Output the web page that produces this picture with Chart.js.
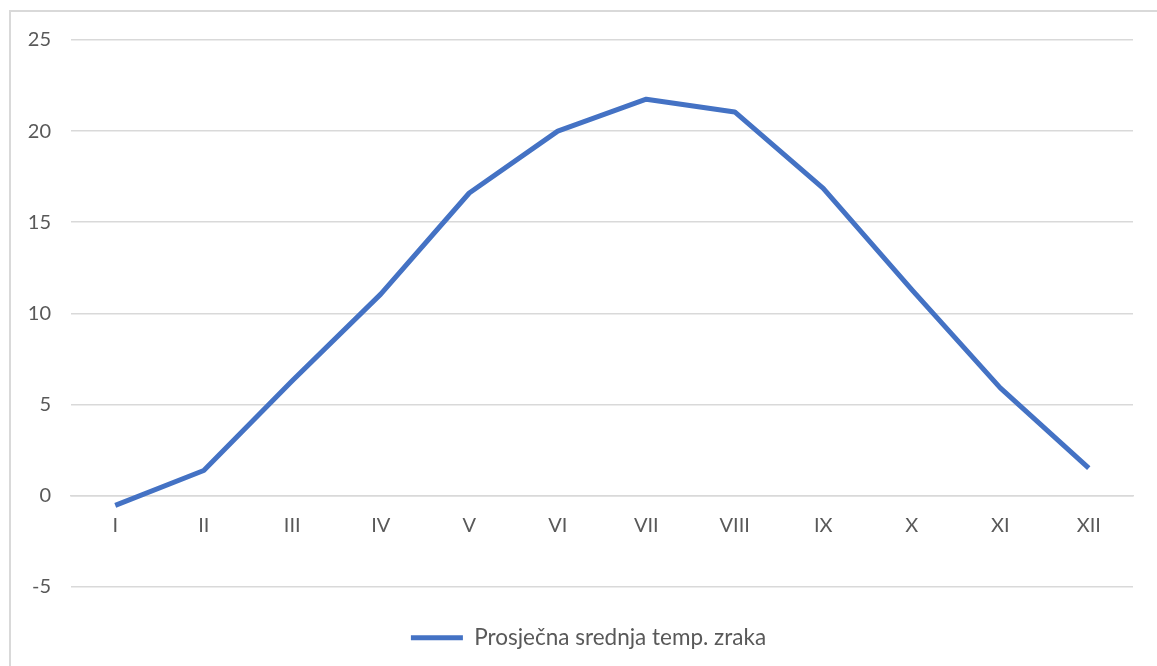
<!DOCTYPE html>
<html>
<head>
<meta charset="utf-8">
<script src="https://cdn.jsdelivr.net/npm/chart.js@4/dist/chart.umd.min.js"></script>
<style>
    html, body { margin: 0; padding: 0; background: #fff; overflow: hidden; width: 1157px; height: 666px; }
    #frame { position: absolute; left: 9px; top: 10px; width: 1200px; height: 700px; border: 2px solid #d9d9d9; }
    #chart { position: absolute; left: 0; top: 0; }
</style>
</head>
<body>
<div id="frame"></div>
<canvas id="chart" width="1157" height="659"></canvas>
<script>
const months = ['I', 'II', 'III', 'IV', 'V', 'VI', 'VII', 'VIII', 'IX', 'X', 'XI', 'XII'];
const avgTemp = [-0.55, 1.37, 6.3, 11.05, 16.6, 20.0, 21.75, 21.05, 16.85, 11.3, 5.9, 1.5];
const seriesName = 'Prosječna srednja temp. zraka';
const yTicks = { min: -5, max: 25, step: 5 };

const textColor = '#595959';
const gridColor = '#d9d9d9';

// nudge the legend sideways, Excel does not center it exactly
const legendShift = {
    id: 'legendShift',
    afterLayout(chart) {
        const lg = chart.legend;
        if (lg) { lg.left += 22; lg.right += 22; }
    }
};

const ctx = document.getElementById('chart');
new Chart(ctx, {
    type: 'line',
    data: {
        labels: months,
        datasets: [{
            label: seriesName,
            data: avgTemp,
            borderColor: '#4472C4',
            backgroundColor: '#4472C4',
            borderWidth: 5,
            borderJoinStyle: 'round',
            pointRadius: 0,
            tension: 0
        }]
    },
    plugins: [legendShift],
    options: {
        responsive: false,
        animation: false,
        layout: { padding: { top: 40, right: 24, bottom: 0, left: 0 } },
        plugins: {
            tooltip: { enabled: false },
            legend: {
                position: 'bottom',
                labels: {
                    boxWidth: 52,
                    boxHeight: 5,
                    padding: 40,
                    color: textColor,
                    font: { family: 'Lato', size: 22.5 },
                    generateLabels: (chart) => [{
                        text: seriesName,
                        fillStyle: '#4472C4',
                        strokeStyle: '#4472C4',
                        lineWidth: 0,
                        fontColor: textColor,
                        datasetIndex: 0
                    }]
                }
            }
        },
        scales: {
            x: {
                position: { y: 0 },
                offset: true,
                grid: { display: false, drawTicks: false },
                border: { display: true, color: gridColor, width: 1.5 },
                ticks: { color: textColor, padding: 18, font: { family: 'Lato', size: 20 }, maxRotation: 0 }
            },
            y: {
                min: yTicks.min,
                max: yTicks.max,
                afterFit: (scale) => { scale.width = 71; },
                grid: { color: gridColor, lineWidth: 1.5, drawTicks: false },
                border: { display: false },
                ticks: { stepSize: yTicks.step, color: textColor, padding: 20, font: { family: 'Lato', size: 20 } }
            }
        }
    }
});
</script>
</body>
</html>
